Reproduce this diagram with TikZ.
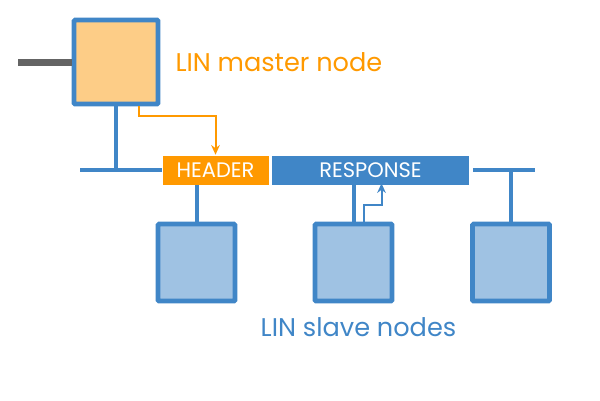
\documentclass[tikz,border=0pt]{standalone}
\usepackage{fontspec}
\setmainfont{Poppins}
\usetikzlibrary{positioning,arrows.meta,calc}
\definecolor{LinBlue}{RGB}{64,134,199}
\definecolor{SlaveFill}{RGB}{159,194,227}
\definecolor{MasterFill}{RGB}{253,205,135}
\definecolor{LinOrange}{RGB}{255,153,0}
\definecolor{StubGray}{RGB}{100,100,100}
\tikzset{
  bus/.style={line width=4pt,draw=LinBlue},
  hdrflow/.style={-{Stealth[length=3.4mm,width=3mm]},line width=2pt,draw=LinOrange},
  rspflow/.style={-{Stealth[length=3.4mm,width=3mm]},line width=2pt,draw=LinBlue},
  masterbox/.style={draw=LinBlue,fill=MasterFill,line width=4.6pt,rounded corners=1pt,
    minimum width=84pt,minimum height=84pt,inner sep=0pt},
  slavebox/.style={draw=LinBlue,fill=SlaveFill,line width=4.6pt,rounded corners=1pt,
    minimum width=77pt,minimum height=77pt,inner sep=0pt},
  headerbox/.style={fill=LinOrange,draw=white,line width=0.5pt,minimum height=30pt,
    inner sep=0pt,text=white,font=\fontsize{21}{24}\selectfont},
  responsebox/.style={fill=LinBlue,draw=white,line width=0.5pt,minimum height=30pt,
    inner sep=0pt,text=white,font=\fontsize{21}{24}\selectfont},
  caption/.style={font=\fontsize{25.6}{30}\selectfont,inner sep=0pt}
}
\begin{document}
\begin{tikzpicture}[x=1pt,y=-1pt]
  \useasboundingbox (0,0) rectangle (600,400);
  \node[masterbox] (master) at (116,62) {};
  \node[headerbox,minimum width=107pt] (header) at (215.5,170) {HEADER};
  \node[responsebox,minimum width=198pt,right=2pt of header] (response) {RESPONSE};
  \node[slavebox] (slaveA) at (196.5,262.5) {};
  \node[slavebox] (slaveB) at (353.5,262.5) {};
  \node[slavebox] (slaveC) at (511,262.5) {};
  \node[caption,text=LinOrange,anchor=west,right=15pt of master.east] (mastertxt) {LIN master node};
  \node[caption,text=LinBlue,below=14pt of slaveB,xshift=5pt] (slavetxt) {LIN slave nodes};
  \coordinate (busL) at (80,170);
  \coordinate (busR) at (535,170);
  \coordinate (stub) at (18,62);
  % bus segments and drops
  \draw[bus] (busL) -- (header.west);
  \draw[bus] ([xshift=3pt]response.east) -- (busR);
  \draw[bus] (master.south) -- (master.south |- busL);
  \draw[bus] (slaveA.north) -- (slaveA.north |- header.south);
  \draw[bus] (slaveB.north) -- ([yshift=2pt]slaveB.north |- response.south);
  \draw[bus] (slaveC.north) -- (slaveC.north |- busR);
  \draw[line width=7pt,draw=StubGray] (stub) -- (master.west);
  % frame parts
  \draw[hdrflow] ([xshift=23pt]master.south) -- ++(0,10) -| (header.north);
  \draw[rspflow] ([xshift=10pt]slaveB.north) -- ++(0,-17) -| ([xshift=11pt,yshift=2pt]response.south);
\end{tikzpicture}
\end{document}
